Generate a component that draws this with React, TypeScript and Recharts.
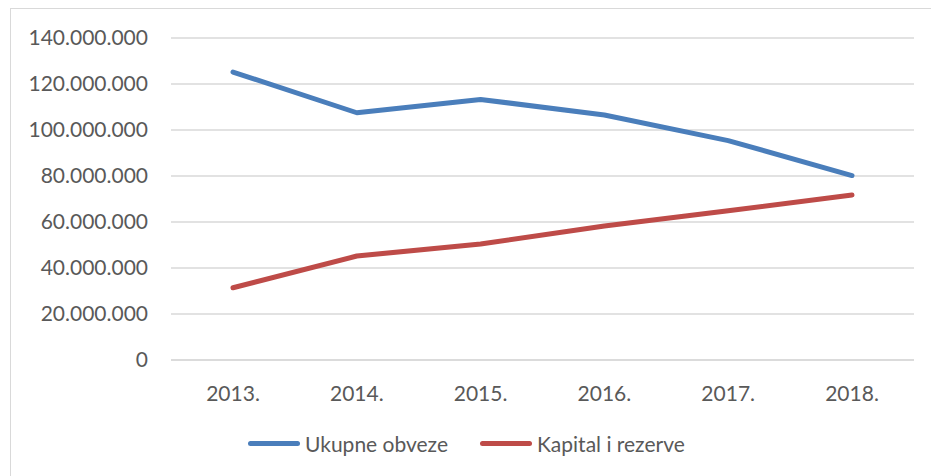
import React from "react";
import { LineChart, Line, XAxis, YAxis, CartesianGrid } from "recharts";

const years = ["2013.", "2014.", "2015.", "2016.", "2017.", "2018."];
const ukupneObveze = [125200000, 107500000, 113300000, 106500000, 95400000, 80200000];
const kapitalIRezerve = [31400000, 45200000, 50400000, 58300000, 64900000, 71700000];
const yTicks = [0, 20000000, 40000000, 60000000, 80000000, 100000000, 120000000, 140000000];

const BLUE = "#4A7EBB";
const RED = "#BE4B48";
const TEXT = "#595959";
const FONT = "Lato, 'Open Sans', sans-serif";

const data = years.map((y, i) => ({
  year: y,
  obveze: ukupneObveze[i],
  kapital: kapitalIRezerve[i],
}));

function fmt(v: number) {
  return v.toLocaleString("de-DE");
}

function LegendItem({ color, label }: { color: string; label: string }) {
  return (
    <div style={{ display: "flex", alignItems: "center" }}>
      <div style={{ width: 52, height: 5, borderRadius: 3, background: color, marginRight: 5 }} />
      <span style={{ color: TEXT, fontSize: 21, fontFamily: FONT }}>{label}</span>
    </div>
  );
}

export default function App() {
  return (
    <div style={{ position: "absolute", top: 0, left: 0, width: 931, height: 476, background: "#fff", overflow: "hidden" }}>
      <div
        style={{
          position: "absolute",
          left: 10,
          top: 8,
          width: 940,
          height: 480,
          border: "1px solid #d9d9d9",
          boxSizing: "border-box",
        }}
      />
      <LineChart
        width={931}
        height={476}
        data={data}
        margin={{ top: 38, right: 17, left: 0, bottom: 86 }}
        style={{ position: "absolute", top: 0, left: 0 }}
      >
        <CartesianGrid vertical={false} stroke="#d9d9d9" strokeWidth={1.5} />
        <XAxis
          dataKey="year"
          height={30}
          padding={{ left: 62, right: 62 }}
          axisLine={{ stroke: "#d9d9d9", strokeWidth: 1.5 }}
          tickLine={false}
          tick={{ fill: TEXT, fontSize: 21, fontFamily: FONT }}
          tickMargin={20}
        />
        <YAxis
          width={171}
          domain={[0, 140000000]}
          ticks={yTicks}
          interval={0}
          axisLine={false}
          tickLine={false}
          tickMargin={17}
          tickFormatter={fmt}
          tick={{ fill: TEXT, fontSize: 21, fontFamily: FONT }}
        />
        <Line
          dataKey="obveze"
          name="Ukupne obveze"
          stroke={BLUE}
          strokeWidth={5}
          strokeLinecap="round"
          strokeLinejoin="round"
          dot={false}
          activeDot={false}
          isAnimationActive={false}
        />
        <Line
          dataKey="kapital"
          name="Kapital i rezerve"
          stroke={RED}
          strokeWidth={5}
          strokeLinecap="round"
          strokeLinejoin="round"
          dot={false}
          activeDot={false}
          isAnimationActive={false}
        />
      </LineChart>
      <div style={{ position: "absolute", left: 248, top: 431, display: "flex", gap: 0 }}>
        <div style={{ width: 232 }}>
          <LegendItem color={BLUE} label="Ukupne obveze" />
        </div>
        <LegendItem color={RED} label="Kapital i rezerve" />
      </div>
    </div>
  );
}
